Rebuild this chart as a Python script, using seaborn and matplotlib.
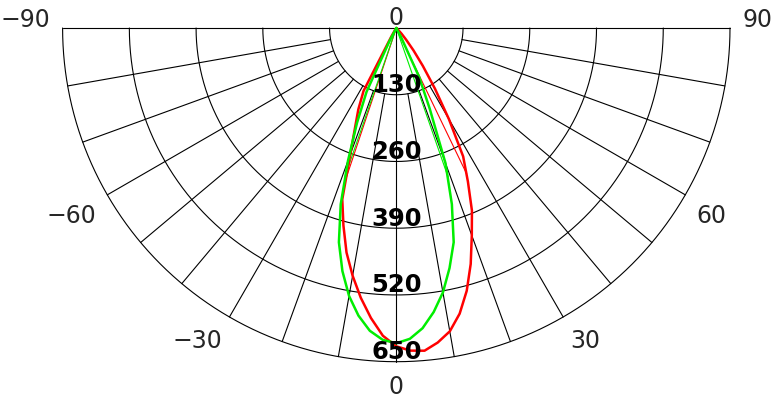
import numpy as np
import pandas as pd
import matplotlib
matplotlib.use("Agg")
import matplotlib.pyplot as plt
import matplotlib.transforms as mtransforms
import seaborn as sns

# ---------------- data ----------------
angles = [-45, -42.5, -40, -37.5, -35, -32.5, -30, -27.5, -25, -22.5, -20, -17.5,
          -15, -12.5, -10, -7.5, -5, -2.5, 0, 2.5, 5, 7.5, 10, 12.5, 15, 17.5,
          20, 22.5, 25, 27.5, 30, 32.5, 35, 37.5, 40, 42.5, 45, 47.5, 50]
red_values = [0, 0, 0, 0, 0, 5, 20, 138, 175, 210, 262, 350,
              398, 448, 490, 530, 567, 600, 620, 629, 631, 618, 600, 570, 530, 482,
              430, 385, 330, 282, 205, 140, 90, 55, 30, 15, 5, 0, 0]
green_values = [0, 0, 0, 0, 0, 0, 0, 30, 137, 200, 275, 360,
                432, 485, 530, 565, 592, 608, 614, 606, 587, 558, 523, 479, 432, 360,
                280, 170, 105, 20, 0, 0, 0, 0, 0, 0, 0, 0, 0]
ring_values = [130, 260, 390, 520, 650]
angle_labels = [-90, -60, -30, 0, 30, 60, 90]
series_colors = {"red": "#ff0000", "green": "#00ee00"}

R = 650

def to_xy(theta_deg, r):
    t = np.deg2rad(np.asarray(theta_deg, dtype=float))
    r = np.asarray(r, dtype=float)
    return r * np.sin(t), -r * np.cos(t)

sns.set_theme(style="white")
plt.rcParams["font.family"] = ["DejaVu Sans"]

W, H = 776, 398
fig = plt.figure(figsize=(W / 100, H / 100), dpi=100)
cx, cy, rad = 396.3, 28.0, 333.7
ax = fig.add_axes([(cx - rad) / W, (H - (cy + rad)) / H, 2 * rad / W, rad / H])
ax.set_xlim(-R, R)
ax.set_ylim(-R, 0)
ax.axis("off")

grid_kw = dict(color="black", lw=0.8, clip_on=False, zorder=1)
th = np.linspace(-90, 90, 721)
for r in ring_values:
    ax.plot(*to_xy(th, np.full_like(th, r)), **grid_kw)
for a in range(-80, 81, 10):
    if a == 0:
        ax.plot(*to_xy([0, 0], [0, R]), **grid_kw)
    else:
        ax.plot(*to_xy([a, a], [ring_values[0], R]), **grid_kw)
ax.plot([-R, R], [0, 0], **grid_kw)

# curves
frames = []
for name, vals in [("red", red_values), ("green", green_values)]:
    x, y = to_xy(angles, vals)
    frames.append(pd.DataFrame({"x": x, "y": y, "series": name, "order": range(len(x))}))
df = pd.concat(frames, ignore_index=True)
sns.lineplot(data=df, x="x", y="y", hue="series", palette=series_colors,
             sort=False, estimator=None, units="series", lw=1.8, legend=False,
             ax=ax, zorder=3)
for line in ax.lines[-2:]:
    line.set_clip_on(False)

# beam (half-maximum) lines
def half_angles(vals):
    vals = np.asarray(vals, float)
    a = np.asarray(angles, float)
    half = vals.max() / 2
    i = int(np.argmax(vals))
    res = []
    # left side
    for j in range(i, 0, -1):
        if vals[j - 1] < half <= vals[j]:
            f = (half - vals[j - 1]) / (vals[j] - vals[j - 1])
            res.append(a[j - 1] + f * (a[j] - a[j - 1]))
            break
    for j in range(i, len(vals) - 1):
        if vals[j + 1] < half <= vals[j]:
            f = (vals[j] - half) / (vals[j] - vals[j + 1])
            res.append(a[j] + f * (a[j + 1] - a[j]))
            break
    return res, half

for name, vals in [("red", red_values), ("green", green_values)]:
    hs, half = half_angles(vals)
    for ha_ in hs:
        x, y = to_xy([0, ha_], [0, half])
        ax.plot(x, y, color=series_colors[name], lw=0.8, zorder=2, clip_on=False)

# ring labels
for r in ring_values:
    ax.text(0, -r + 5, str(r), ha="center", va="baseline", fontsize=17.5,
            fontweight="bold", color="black", zorder=4)

# angle labels (digits centred on anchor, minus sign hangs to the left)
label_pos = {90: (702.6, 1.4), 60: (613.6, -379.2), 30: (367.6, -623.9)}
shift = mtransforms.offset_copy(ax.transData, fig=fig, x=-9.9, y=0, units="dots")
for a in angle_labels:
    if a == 0:
        ax.text(0, -713.5, "0", ha="center", va="baseline", fontsize=17, clip_on=False)
        ax.text(0, 5.8, "0", ha="center", va="baseline", fontsize=17, clip_on=False)
        continue
    px, py = label_pos[abs(a)]
    if a > 0:
        ax.text(px, py, str(a), ha="center", va="baseline", fontsize=17, clip_on=False)
    else:
        ax.text(-px, py, "\u2212" + str(abs(a)), ha="center", va="baseline",
                fontsize=17, clip_on=False, transform=shift)

fig.savefig("out.png", dpi=100)
